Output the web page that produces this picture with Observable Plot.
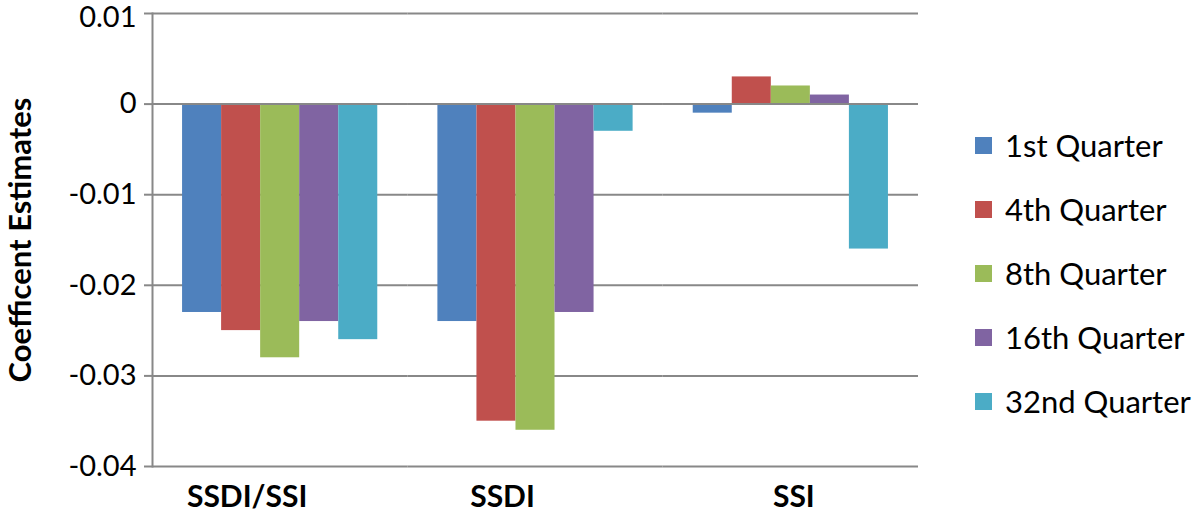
<!DOCTYPE html>
<html>
<head>
<meta charset="utf-8">
<script src="https://cdn.jsdelivr.net/npm/d3@7"></script>
<script src="https://cdn.jsdelivr.net/npm/@observablehq/plot@0.6"></script>
<style>
  html, body { margin: 0; padding: 0; background: #fff; }
  #wrap { position: relative; width: 1200px; height: 518px; font-family: Lato, "Open Sans", sans-serif; }
  #ytitle { position: absolute; left: 19px; top: 240px; transform: translate(-50%, -50%) rotate(-90deg); white-space: nowrap; font-weight: bold; font-size: 31px; line-height: 34px; color: #000; }
  #legend { position: absolute; left: 975px; top: 113px; }
  .item { display: flex; align-items: center; height: 64px; font-size: 31px; color: #000; }
  .sw { width: 17px; height: 17px; margin-right: 13px; }
</style>
</head>
<body>
<div id="wrap">
  <div id="chart"></div>
  <div id="ytitle">Coefficent Estimates</div>
  <div id="legend"></div>
</div>
<script>
const categories = ["SSDI/SSI", "SSDI", "SSI"];
const seriesNames = ["1st Quarter", "4th Quarter", "8th Quarter", "16th Quarter", "32nd Quarter"];
const seriesColors = ["#4F81BD", "#C0504D", "#9BBB59", "#8064A2", "#4BACC6"];
const q1 = [-0.023, -0.024, -0.001];
const q4 = [-0.025, -0.035, 0.003];
const q8 = [-0.028, -0.036, 0.002];
const q16 = [-0.024, -0.023, 0.001];
const q32 = [-0.026, -0.003, -0.016];
const yTicks = [0.01, 0, -0.01, -0.02, -0.03, -0.04];

const seriesValues = [q1, q4, q8, q16, q32];
const data = [];
categories.forEach((c, ci) => {
  seriesNames.forEach((s, si) => {
    data.push({category: c, series: s, value: seriesValues[si][ci]});
  });
});

const grid = "#888888";
const topTick = yTicks[0];
const labelFont = {fontSize: 30, fontWeight: "bold", fill: "#000", label: null, tickSize: 0, tickPadding: 19, anchor: "bottom"};
const chart = Plot.plot({
  width: 1200,
  height: 518,
  marginLeft: 152,
  marginRight: 282,
  marginTop: 13,
  marginBottom: 52,
  style: {fontFamily: "Lato, 'Open Sans', sans-serif", background: "#fff", overflow: "visible"},
  fx: {domain: categories, padding: 0, label: null, round: false},
  x: {domain: seriesNames, paddingInner: 0, paddingOuter: 0.77, axis: null, round: false},
  y: {domain: [-0.04, 0.01], label: null},
  color: {domain: seriesNames, range: seriesColors},
  marks: [
    Plot.ruleY(yTicks, {stroke: grid, strokeWidth: 2}),
    Plot.barY(data, {fx: "category", x: "series", y: "value", fill: "series"}),
    Plot.ruleY([0], {stroke: grid, strokeWidth: 2}),
    Plot.frame({anchor: "left", stroke: grid, strokeWidth: 2, facet: "super"}),
    Plot.axisY({ticks: yTicks, tickSize: 8, tickPadding: 8, stroke: grid, strokeWidth: 2, strokeOpacity: 1,
      tickFormat: d => (d === topTick ? "" : String(d)), fontSize: 29, fill: "#000", label: null}),
    Plot.axisY({ticks: [topTick], tickSize: 0, tickPadding: 16, dy: 4,
      tickFormat: d => String(d), fontSize: 29, fill: "#000", label: null}),
    Plot.axisFx({...labelFont, ticks: ["SSDI/SSI", "SSDI"], dx: -33}),
    Plot.axisFx({...labelFont, ticks: ["SSI"], dx: 3})
  ]
});
document.getElementById("chart").appendChild(chart);

const legend = document.getElementById("legend");
seriesNames.forEach((s, i) => {
  const item = document.createElement("div");
  item.className = "item";
  const sw = document.createElement("div");
  sw.className = "sw";
  sw.style.background = seriesColors[i];
  const t = document.createElement("span");
  t.textContent = s;
  item.appendChild(sw);
  item.appendChild(t);
  legend.appendChild(item);
});
</script>
</body>
</html>
